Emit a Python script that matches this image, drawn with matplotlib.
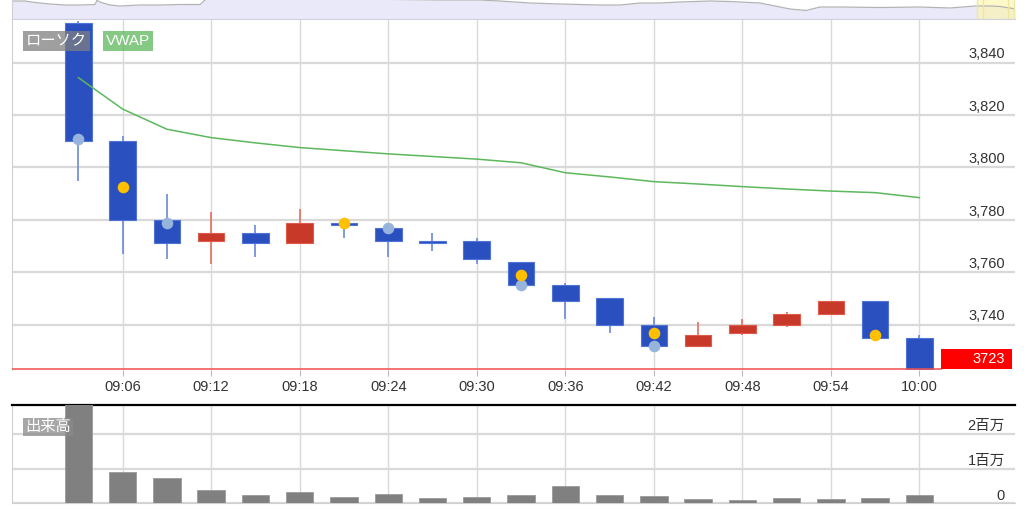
import numpy as np
import matplotlib
matplotlib.use('Agg')
import matplotlib.pyplot as plt
from matplotlib.patches import Rectangle
from matplotlib import transforms

plt.rcParams['font.family'] = ['Liberation Sans', 'Noto Sans CJK JP', 'DejaVu Sans']

# ---- data (3 minute bars) ----
times = ['09:03', '09:06', '09:09', '09:12', '09:15', '09:18', '09:21', '09:24', '09:27', '09:30',
         '09:33', '09:36', '09:39', '09:42', '09:45', '09:48', '09:51', '09:54', '09:57', '10:00']
opens = [3855, 3810, 3780, 3772, 3775, 3771, 3779, 3777, 3772, 3772,
         3764, 3755, 3750, 3740, 3732, 3737, 3740, 3744, 3749, 3735]
highs = [3856, 3812, 3790, 3783, 3778, 3784, 3779, 3777, 3775, 3773,
         3764, 3756, 3750, 3743, 3741, 3742, 3745, 3749, 3749, 3736]
lows = [3795, 3767, 3765, 3763, 3766, 3771, 3773, 3766, 3768, 3763,
        3755, 3742, 3737, 3732, 3732, 3736, 3739, 3744, 3735, 3723]
closes = [3810, 3780, 3771, 3775, 3771, 3779, 3778, 3772, 3771, 3765,
          3755, 3749, 3740, 3732, 3736, 3740, 3744, 3749, 3735, 3723]
vwap = [3834.3, 3822.3, 3814.6, 3811.4, 3809.4, 3807.6, 3806.4, 3805.2, 3804.2, 3803.2,
        3801.8, 3798.0, 3796.4, 3794.6, 3793.7, 3792.7, 3791.8, 3791.0, 3790.4, 3788.5]
volume = [3.2e6, 0.895e6, 0.72e6, 0.39e6, 0.24e6, 0.32e6, 0.17e6, 0.26e6, 0.14e6, 0.17e6,
          0.24e6, 0.50e6, 0.24e6, 0.21e6, 0.115e6, 0.09e6, 0.14e6, 0.115e6, 0.14e6, 0.24e6]

# signal dots
yellow_idx = [1, 6, 10, 13, 18]
yellow_val = [3792.4, 3779, 3759, 3737, 3736]
lblue_idx = [0, 2, 7, 10, 13]
lblue_val = [3811, 3779, 3777, 3755, 3732]

price_ticks = [3740, 3760, 3780, 3800, 3820, 3840]
vol_ticks = [0, 1e6, 2e6]
vol_labels = ['0', '1百万', '2百万']
xtick_idx = list(range(1, 20, 2))

# navigator mini chart (pixel x, height)
nav_x = [12, 25, 35, 50, 65, 80, 95, 97, 100, 110, 120, 140, 160, 180, 200, 207, 300, 440,
         480, 500, 530, 560, 600, 620, 640, 660, 680, 710, 730, 760, 775, 790, 806, 820,
         840, 880, 920, 950, 975, 990, 1000, 1010, 1015]
nav_v = [18.3, 18.3, 16.8, 15.3, 14.3, 14.3, 14.8, 19.0, 17.3, 14.3, 13.3, 14.3, 14.3, 14.8,
         14.8, 21, 21, 19.3, 19.3, 18.3, 16.3, 15.3, 14.3, 14.3, 16.3, 16.3, 17.3, 18.3,
         17.8, 16.3, 13.3, 10.3, 8.8, 12.3, 12.3, 11.8, 12.3, 11.3, 13.3, 13.3, 12.8, 11.3, 10.3]

W, H = 1024, 515
BLUE, BLUE_E, BLUE_W = '#2a4fbf', '#4f74d6', '#6a8ad8'
RED, RED_E, RED_W = '#c9392a', '#df5a4a', '#e2705f'
GRID = '#d9d9d9'
TXT = '#333333'


def px(x0, y0, x1, y1):
    return [x0 / W, 1 - y1 / H, (x1 - x0) / W, (y1 - y0) / H]


fig = plt.figure(figsize=(W / 100, H / 100), dpi=100)
fig.patch.set_facecolor('white')

x = np.arange(len(times))
xlim = (-1.5, 21.16)

# ---- navigator ----
nav = fig.add_axes(px(12, 0, 1015, 19.3))
nav.set_xlim(12, 1015)
nav.set_ylim(0, 19.3)
nav.fill_between(nav_x, 0, nav_v, color='#e9e9f9', lw=0)
nav.plot(nav_x, nav_v, color='#b4b4b4', lw=0.9)
nav.axvspan(977, 1015, color='#fff6a8', alpha=0.6, lw=0)
for xv in [977, 983, 1008, 1014.5]:
    nav.axvline(xv, color='#ece7a0', lw=1)
nav.set_xticks([])
nav.set_yticks([])
for s in ['top', 'right']:
    nav.spines[s].set_visible(False)
nav.spines['bottom'].set_color('#cfcfdd')
nav.spines['left'].set_color('#d0d0d0')

# ---- price panel ----
ax = fig.add_axes(px(12, 20, 1015, 370))
ax.set_xlim(*xlim)
ax.set_ylim(3722.7, 3856.3)
ax.set_yticks(price_ticks)
ax.set_yticklabels([])
ax.tick_params(axis='y', length=0)
ax.set_xticks(xtick_idx)
ax.set_xticklabels([times[i] for i in xtick_idx], fontsize=10.5, color=TXT)
ax.tick_params(axis='x', length=4, color='#bbbbbb', pad=3)
ax.grid(axis='y', color=GRID, lw=1.6)
ax.grid(axis='x', color=GRID, lw=1.0)
ax.set_axisbelow(True)
for s in ['top', 'right', 'bottom']:
    ax.spines[s].set_visible(False)
ax.spines['left'].set_color('#d0d0d0')

bw = 0.6
for i in range(len(times)):
    up = closes[i] > opens[i]
    fc, ec, wc = (RED, RED_E, RED_W) if up else (BLUE, BLUE_E, BLUE_W)
    ax.vlines(x[i], lows[i], highs[i], color=wc, lw=1.2, zorder=2)
    lo, hi = min(opens[i], closes[i]), max(opens[i], closes[i])
    ax.add_patch(Rectangle((x[i] - bw / 2, lo), bw, max(hi - lo, 0.9),
                           facecolor=fc, edgecolor=ec, lw=0.8, zorder=3))

ax.plot(x, vwap, color='#5cb85c', lw=1.1, zorder=4)
ax.scatter(lblue_idx, lblue_val, s=70, color='#97b4dc', zorder=5, lw=0)
ax.scatter(yellow_idx, yellow_val, s=70, color='#ffc000', zorder=5, lw=0)

last = closes[-1]
ax.axhline(last, xmax=0.926, color='#f25050', lw=1.1, zorder=4)
blend = transforms.blended_transform_factory(ax.transAxes, ax.transData)
ax.add_patch(Rectangle((0.9262, last), 0.0705, 20 / 2.62, transform=blend,
                       facecolor='#ff0000', edgecolor='none', clip_on=False, zorder=6))
ax.annotate(str(last), xy=(0.9967, last), xycoords=blend, xytext=(-5, 7.2),
            textcoords='offset points', ha='right', va='center', color='white',
            fontsize=10.5, zorder=7)

for v in price_ticks:
    ax.annotate(f'{v:,}', xy=(1, v), xycoords=blend, xytext=(-7.2, 6.0),
                textcoords='offset points', ha='right', va='center', color=TXT, fontsize=10.5)

fig.text(26 / W, 1 - 41 / H, 'ローソク', color='white', fontsize=11, ha='left', va='center',
         bbox=dict(boxstyle='square,pad=0.18', fc='#7f7f7f', ec='none', alpha=0.75), zorder=10)
fig.text(106 / W, 1 - 41 / H, 'VWAP', color='white', fontsize=11, ha='left', va='center',
         bbox=dict(boxstyle='square,pad=0.18', fc='#5cb85c', ec='none', alpha=0.75), zorder=10)

# ---- volume panel ----
vx = fig.add_axes(px(12, 405.3, 1015, 503.3))
vx.set_xlim(*xlim)
vx.set_ylim(0, 2.83e6)
vx.bar(x, volume, width=0.62, color='#808080', edgecolor='#9a9a9a', lw=0.6, zorder=3)
vx.set_xticks(xtick_idx)
vx.set_xticklabels([])
vx.set_yticks(vol_ticks)
vx.set_yticklabels([])
vx.tick_params(length=0)
vx.grid(axis='y', color=GRID, lw=1.6)
vx.grid(axis='x', color=GRID, lw=1.0)
vx.set_axisbelow(True)
vx.spines['right'].set_visible(False)
vx.spines['top'].set_color('black')
vx.spines['top'].set_linewidth(1.6)
vx.spines['left'].set_color('#d0d0d0')
vx.spines['bottom'].set_color('#d0d0d0')
vblend = transforms.blended_transform_factory(vx.transAxes, vx.transData)
for v, lab in zip(vol_ticks, vol_labels):
    vx.annotate(lab, xy=(1, v), xycoords=vblend, xytext=(-7.2, 5.6),
                textcoords='offset points', ha='right', va='center', color=TXT, fontsize=10.5)

fig.text(25 / W, 1 - 427 / H, '出来高', color='white', fontsize=11, ha='left', va='center',
         bbox=dict(boxstyle='square,pad=0.15', fc='#8a8a8a', ec='none', alpha=0.75), zorder=10)

fig.savefig('out.png', dpi=100)
